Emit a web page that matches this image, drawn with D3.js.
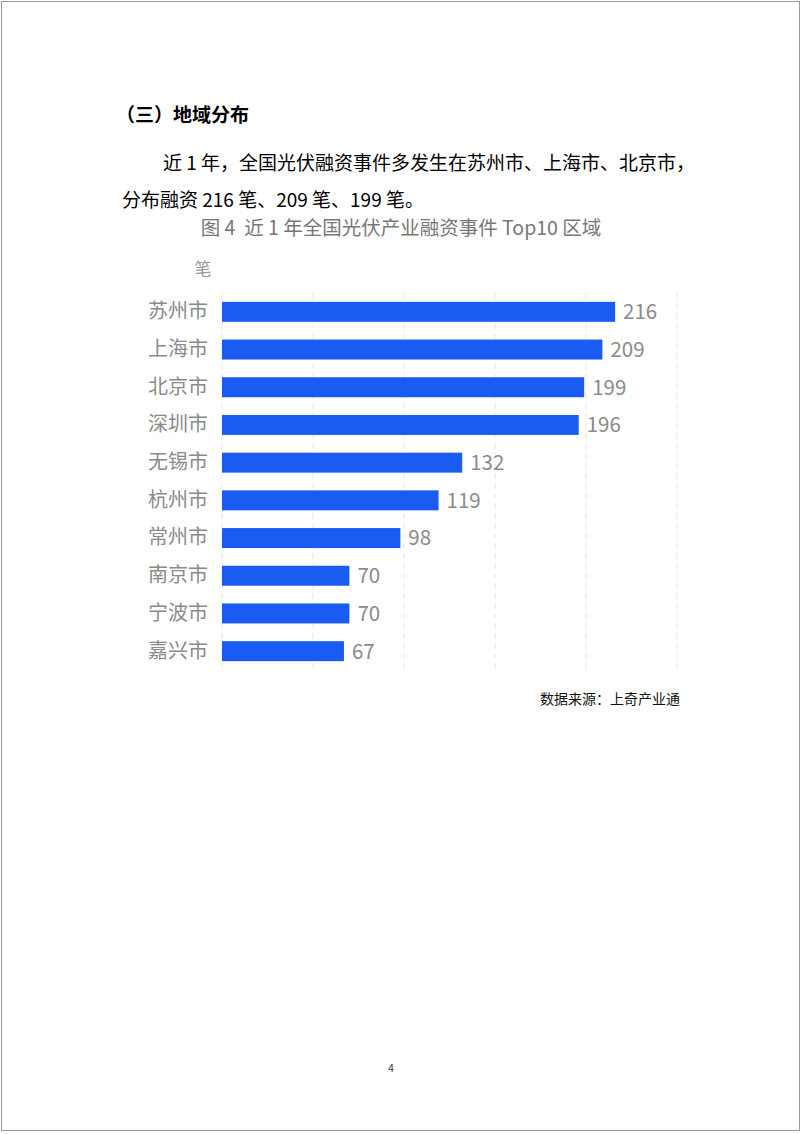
<!DOCTYPE html>
<html>
<head>
<meta charset="utf-8">
<script src="https://cdn.jsdelivr.net/npm/d3@7"></script>
<style>
  body { margin: 0; background: #fff; }
  svg { display: block; }
  text { white-space: pre; }
</style>
</head>
<body>
<svg id="page" width="802" height="1134"></svg>
<script>
// chart data
const cities = ["苏州市", "上海市", "北京市", "深圳市", "无锡市", "杭州市", "常州市", "南京市", "宁波市", "嘉兴市"];
const counts = [216, 209, 199, 196, 132, 119, 98, 70, 70, 67];
const xTicks = [0, 50, 100, 150, 200, 250];

const heading = "（三）地域分布";
const paraLines = ["近 1 年，全国光伏融资事件多发生在苏州市、上海市、北京市，", "分布融资 216 笔、209 笔、199 笔。"];
const chartTitle = "图 4  近 1 年全国光伏产业融资事件 Top10 区域";
const unitLabel = "笔";
const sourceNote = "数据来源：上奇产业通";

const font = "'Noto Sans CJK SC', 'Noto Sans', sans-serif";
const svg = d3.select("#page");

// page frame
svg.append("rect")
  .attr("x", 1.5).attr("y", 1.5)
  .attr("width", 798).attr("height", 1129)
  .attr("fill", "none").attr("stroke", "#999").attr("stroke-width", 1);

// body text
svg.append("text")
  .attr("x", 116).attr("y", 122)
  .attr("font-family", font).attr("font-size", 19).attr("font-weight", "bold")
  .attr("fill", "#000")
  .text(heading);

svg.append("text")
  .attr("x", 163).attr("y", 170)
  .attr("font-family", font).attr("font-size", 19)
  .attr("fill", "#000")
  .text(paraLines[0]);

svg.append("text")
  .attr("x", 122).attr("y", 207)
  .attr("font-family", font).attr("font-size", 19)
  .attr("fill", "#000")
  .text(paraLines[1]);

// chart title and unit
svg.append("text")
  .attr("x", 401).attr("y", 235)
  .attr("text-anchor", "middle")
  .attr("font-family", font).attr("font-size", 19.5)
  .attr("fill", "#777")
  .text(chartTitle);

svg.append("text")
  .attr("x", 203).attr("y", 275)
  .attr("text-anchor", "middle")
  .attr("font-family", font).attr("font-size", 17)
  .attr("fill", "#999")
  .text(unitLabel);

// scales
const x = d3.scaleLinear().domain([0, 250]).range([222, 677]);
const y = d3.scaleBand().domain(cities).range([293, 670]).paddingInner(0.47).paddingOuter(0.235);

// dashed grid lines
svg.append("g")
  .selectAll("line")
  .data(xTicks)
  .join("line")
  .attr("x1", d => x(d)).attr("x2", d => x(d))
  .attr("y1", 293).attr("y2", 670)
  .attr("stroke", "#e6e6e6")
  .attr("stroke-width", 1)
  .attr("stroke-dasharray", "6,4");

// bars
const rows = cities.map((c, i) => ({ city: c, n: counts[i] }));

svg.append("g")
  .selectAll("rect")
  .data(rows)
  .join("rect")
  .attr("x", x(0))
  .attr("y", d => y(d.city))
  .attr("width", d => x(d.n) - x(0))
  .attr("height", y.bandwidth())
  .attr("fill", "#1a5cf2");

// category labels
const yAxis = d3.axisLeft(y).tickSize(0).tickPadding(14);
const ag = svg.append("g")
  .attr("transform", `translate(${x(0)},0)`)
  .call(yAxis);
ag.select(".domain").remove();
ag.selectAll("text")
  .attr("font-family", font).attr("font-size", 20)
  .attr("fill", "#8a8a8a");

// value labels
svg.append("g")
  .selectAll("text")
  .data(rows)
  .join("text")
  .attr("x", d => x(d.n) + 8)
  .attr("y", d => y(d.city) + y.bandwidth() / 2)
  .attr("dy", "0.36em")
  .attr("font-family", font).attr("font-size", 20.5)
  .attr("fill", "#8a8a8a")
  .text(d => d.n);

// source
svg.append("text")
  .attr("x", 680).attr("y", 704)
  .attr("text-anchor", "end")
  .attr("font-family", font).attr("font-size", 14)
  .attr("fill", "#111")
  .text(sourceNote);

// page number
svg.append("text")
  .attr("x", 391).attr("y", 1072)
  .attr("text-anchor", "middle")
  .attr("font-family", font).attr("font-size", 10)
  .attr("fill", "#333")
  .text("4");
</script>
</body>
</html>
